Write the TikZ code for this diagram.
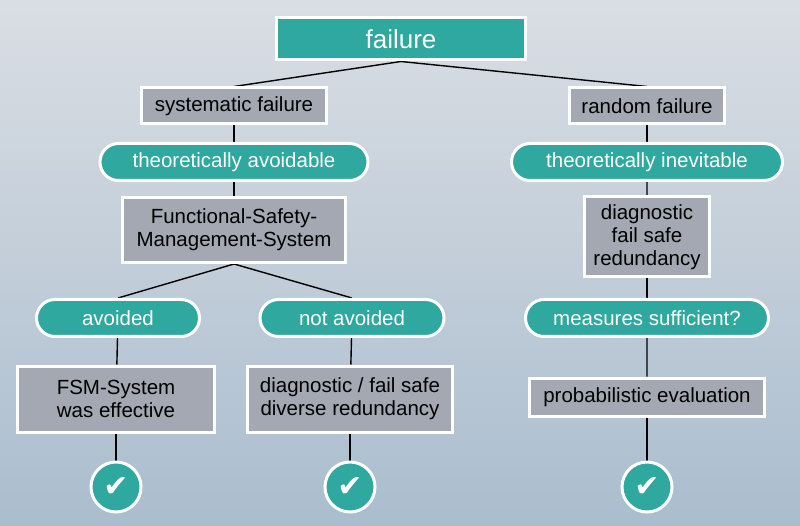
\documentclass[tikz,border=0pt]{standalone}
\usepackage{fontspec}
\setmainfont{Liberation Sans}
\newfontfamily\symfont{DejaVu Sans}
\usetikzlibrary{shapes.misc, backgrounds}
\definecolor{tealfill}{HTML}{2FA8A0}
\definecolor{boxgray}{HTML}{A3A8B2}
\definecolor{bgtop}{HTML}{DADEE4}
\definecolor{bgbottom}{HTML}{AABDCE}
\tikzset{
  graybox/.style={draw=white, line width=3pt, fill=boxgray, align=center,
    font=\fontsize{20.5}{23}\selectfont, inner sep=0pt},
  tealpill/.style={rounded rectangle, draw=white, line width=3pt, fill=tealfill,
    text=white, font=\fontsize{20.5}{23}\selectfont, inner sep=0pt},
  okmark/.style={circle, draw=white, line width=3pt, fill=tealfill, text=white,
    minimum size=50pt, inner sep=0pt, font=\symfont\bfseries\fontsize{30}{30}\selectfont},
  link/.style={line width=1.4pt}
}
\begin{document}
\begin{tikzpicture}[x=1pt, y=-1pt]
                % top level
                \node[graybox, fill=tealfill, text=white, minimum width=249pt, minimum height=42pt,
                  font=\fontsize{26}{28}\selectfont] (failure) at (401,39) {failure};
                \node[graybox, minimum width=185pt, minimum height=36pt] (sysfail) at (234,106) {systematic failure};
                \node[graybox, minimum width=155pt, minimum height=36pt] (randfail) at (647,106) {random failure};

                % second level
                \node[tealpill, minimum width=268pt, minimum height=37pt] (avoidable) at (234,162) {theoretically avoidable};
                \node[tealpill, minimum width=271pt, minimum height=37pt] (inevitable) at (647,162) {theoretically inevitable};
                \node[graybox, minimum width=223pt, minimum height=65pt] (fsm) at (234,230) {Functional-Safety-\\Management-System};
                \node[graybox, minimum width=125pt, minimum height=80pt] (diagfs) at (647,237) {diagnostic\\fail safe\\redundancy};

                % third level
                \node[tealpill, minimum width=163pt, minimum height=37pt] (avoided) at (118,318) {avoided};
                \node[tealpill, minimum width=184pt, minimum height=37pt] (notavoided) at (352,318) {not avoided};
                \node[tealpill, minimum width=243pt, minimum height=37pt] (sufficient) at (647,318) {measures sufficient?};
                \node[graybox, minimum width=197pt, minimum height=66pt] (effective) at (116,399) {FSM-System\\was effective};
                \node[graybox, minimum width=205pt, minimum height=66pt] (diverse) at (350,399) {diagnostic / fail safe\\diverse redundancy};
                \node[graybox, minimum width=235pt, minimum height=38pt] (probeval) at (647,397) {probabilistic evaluation};

                % check marks
                \node[okmark] (okleft) at (116,487) {✔};
                \node[okmark] (okmid) at (350,487) {✔};
                \node[okmark] (okright) at (647,487) {✔};

                \begin{scope}[on background layer]
                % background
                \shade[top color=bgtop, bottom color=bgbottom] (0,0) rectangle (800,526);
                % connectors
                \draw[link] (failure.south) -- (sysfail.north);
                \draw[link] (failure.south) -- (randfail.north);
                \draw[link] (sysfail) -- (avoidable);
                \draw[link] (avoidable) -- (fsm);
                \draw[link] (fsm.south) -- (avoided.north);
                \draw[link] (fsm.south) -- (notavoided.north);
                \draw[link] (avoided) -- (effective);
                \draw[link] (notavoided) -- (diverse);
                \draw[link] (effective) -- (okleft);
                \draw[link] (diverse) -- (okmid);
                \draw[link] (randfail) -- (inevitable);
                \draw[link] (inevitable) -- (diagfs);
                \draw[link] (diagfs) -- (sufficient);
                \draw[link] (sufficient) -- (probeval);
                \draw[link] (probeval) -- (okright);
                \end{scope}
                \useasboundingbox (0,0) rectangle (800,526);
\end{tikzpicture}
\end{document}
